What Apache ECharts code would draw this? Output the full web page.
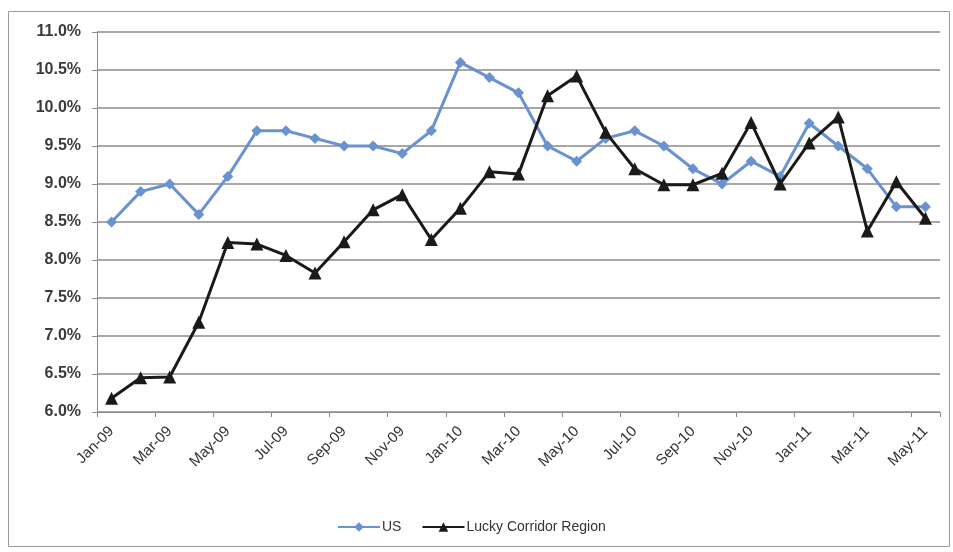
<!DOCTYPE html>
<html>
<head>
<meta charset="utf-8">
<script src="https://cdn.jsdelivr.net/npm/echarts@6/dist/echarts.min.js"></script>
<style>
  html, body { margin: 0; padding: 0; background: #fff; }
  #chart { width: 953px; height: 552px; }
</style>
</head>
<body>
<div id="chart"></div>
<script>
// Monthly unemployment rate, Jan 2009 – May 2011 (percent)
const months = [
  'Jan-09','Feb-09','Mar-09','Apr-09','May-09','Jun-09','Jul-09','Aug-09','Sep-09','Oct-09','Nov-09','Dec-09',
  'Jan-10','Feb-10','Mar-10','Apr-10','May-10','Jun-10','Jul-10','Aug-10','Sep-10','Oct-10','Nov-10','Dec-10',
  'Jan-11','Feb-11','Mar-11','Apr-11','May-11'
];
const usRate = [
  8.5, 8.9, 9.0, 8.6, 9.1, 9.7, 9.7, 9.6, 9.5, 9.5, 9.4, 9.7,
  10.6, 10.4, 10.2, 9.5, 9.3, 9.6, 9.7, 9.5, 9.2, 9.0, 9.3, 9.1,
  9.8, 9.5, 9.2, 8.7, 8.7
];
const corridorRate = [
  6.18, 6.45, 6.46, 7.18, 8.23, 8.21, 8.06, 7.83, 8.24, 8.66, 8.86, 8.27,
  8.68, 9.16, 9.13, 10.16, 10.42, 9.68, 9.2, 8.99, 8.99, 9.14, 9.81, 9.0,
  9.54, 9.88, 8.38, 9.03, 8.55
];
const seriesNames = ['US', 'Lucky Corridor Region'];

const font = '"Liberation Sans", Arial, sans-serif';
const chart = echarts.init(document.getElementById('chart'), null, { renderer: 'canvas' });

chart.setOption({
  animation: false,
  backgroundColor: '#fff',
  textStyle: { fontFamily: font },
  graphic: [{
    type: 'rect',
    shape: { x: 8.5, y: 11.5, width: 941, height: 535 },
    style: { fill: 'none', stroke: '#9a9a9a', lineWidth: 1 },
    silent: true
  }],
  grid: { left: 97, right: 13, top: 32, bottom: 140, containLabel: false },
  legend: {
    top: 515,
    left: 332,
    itemGap: 20,
    itemWidth: 42,
    itemHeight: 12,
    textStyle: { fontFamily: font, fontSize: 14, color: '#333', padding: [0, 0, 0, -3] },
    data: seriesNames
  },
  xAxis: {
    type: 'category',
    data: months,
    boundaryGap: true,
    axisLine: { lineStyle: { color: '#8c8c8c', width: 1 } },
    axisTick: { show: true, interval: 1, length: 5, lineStyle: { color: '#8c8c8c' } },
    axisLabel: {
      interval: 1,
      rotate: 45,
      margin: 17,
      fontFamily: font,
      fontSize: 15,
      color: '#333'
    }
  },
  yAxis: {
    type: 'value',
    min: 6,
    max: 11,
    interval: 0.5,
    axisLine: { show: true, lineStyle: { color: '#8c8c8c', width: 1 } },
    axisTick: { show: true, length: 5, inside: false, lineStyle: { color: '#8c8c8c' } },
    splitLine: { lineStyle: { color: '#8a8a8a', width: 1.5 } },
    axisLabel: {
      margin: 16,
      fontFamily: font,
      fontSize: 16,
      fontWeight: 'bold',
      color: '#3a3a3a',
      formatter: v => v.toFixed(1) + '%'
    }
  },
  series: [
    {
      name: seriesNames[0],
      type: 'line',
      data: usRate,
      symbol: 'diamond',
      symbolSize: 11,
      color: '#6a92d0',
      lineStyle: { width: 3, color: '#6a92d0' },
      itemStyle: { color: '#6a92d0' },
      z: 2
    },
    {
      name: seriesNames[1],
      type: 'line',
      data: corridorRate,
      symbol: 'triangle',
      symbolSize: 13,
      color: '#1a1a1a',
      lineStyle: { width: 3, color: '#1a1a1a' },
      itemStyle: { color: '#1a1a1a' },
      z: 3
    }
  ]
});
</script>
</body>
</html>
